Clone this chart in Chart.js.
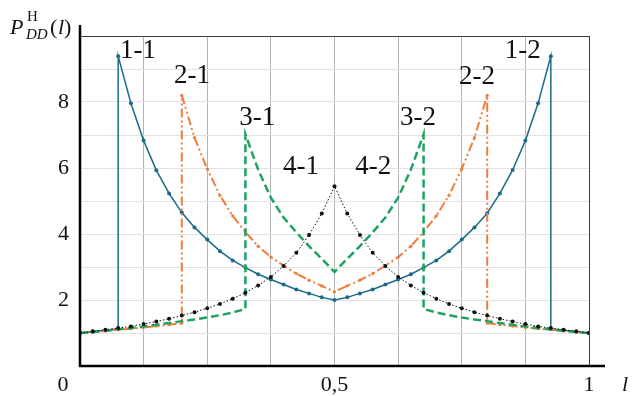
<!DOCTYPE html>
<html>
<head>
<meta charset="utf-8">
<script src="https://cdn.jsdelivr.net/npm/chart.js@4"></script>
<style>
  html, body { margin: 0; padding: 0; background: #fff; }
  canvas { display: block; }
</style>
</head>
<body>
<canvas id="chart" width="633" height="396"></canvas>
<script>
// curve 1 (teal, solid) - jump at l = 0.075 and l = 0.925
const l1 = [0, 0.025, 0.05, 0.075, 0.075, 0.1, 0.125, 0.15, 0.175, 0.2, 0.225, 0.25, 0.275, 0.3, 0.325, 0.35, 0.375, 0.4, 0.425, 0.45, 0.475, 0.5,
  0.525, 0.55, 0.575, 0.6, 0.625, 0.65, 0.675, 0.7, 0.725, 0.75, 0.775, 0.8, 0.825, 0.85, 0.875, 0.9, 0.925, 0.925, 0.95, 0.975, 1]
const p1 = [1.0, 1.04, 1.08, 1.12, 9.39, 7.96, 6.83, 5.93, 5.23, 4.65, 4.2, 3.83, 3.48, 3.2, 2.98, 2.78, 2.62, 2.47, 2.32, 2.2, 2.08, 2.0,
  2.08, 2.2, 2.32, 2.47, 2.62, 2.78, 2.98, 3.2, 3.48, 3.83, 4.2, 4.63, 5.23, 5.94, 6.83, 7.96, 9.39, 1.12, 1.08, 1.04, 1.0]

// curve 2 (orange, dash-dot-dot) - jump at l = 0.2 and l = 0.8
const l2 = [0, 0.025, 0.05, 0.075, 0.1, 0.125, 0.15, 0.175, 0.2, 0.2, 0.225, 0.25, 0.275, 0.3, 0.325, 0.35, 0.375, 0.4, 0.425, 0.45, 0.475, 0.5,
  0.525, 0.55, 0.575, 0.6, 0.625, 0.65, 0.675, 0.7, 0.725, 0.75, 0.775, 0.8, 0.8, 0.825, 0.85, 0.875, 0.9, 0.925, 0.95, 0.975, 1]
const p2 = [1.0, 1.03, 1.06, 1.1, 1.13, 1.17, 1.21, 1.25, 1.3, 8.2, 6.92, 5.97, 5.17, 4.55, 4.06, 3.63, 3.3, 3.04, 2.8, 2.6, 2.43, 2.25,
  2.43, 2.6, 2.8, 3.04, 3.3, 3.63, 4.06, 4.55, 5.17, 5.97, 6.92, 8.2, 1.3, 1.25, 1.21, 1.17, 1.13, 1.1, 1.06, 1.03, 1.0]

// curve 3 (green, dashed) - jump at l = 0.325 and l = 0.675
const l3 = [0, 0.025, 0.05, 0.075, 0.1, 0.125, 0.15, 0.175, 0.2, 0.225, 0.25, 0.275, 0.3, 0.325, 0.325, 0.35, 0.375, 0.4, 0.425, 0.45, 0.475, 0.5,
  0.525, 0.55, 0.575, 0.6, 0.625, 0.65, 0.675, 0.675, 0.7, 0.725, 0.75, 0.775, 0.8, 0.825, 0.85, 0.875, 0.9, 0.925, 0.95, 0.975, 1]
const p3 = [1.0, 1.03, 1.07, 1.11, 1.15, 1.2, 1.25, 1.3, 1.36, 1.41, 1.47, 1.54, 1.62, 1.73, 7.02, 5.95, 5.1, 4.5, 4.05, 3.63, 3.25, 2.85,
  3.25, 3.63, 4.05, 4.5, 5.1, 5.95, 7.02, 1.73, 1.62, 1.54, 1.47, 1.41, 1.36, 1.3, 1.25, 1.2, 1.15, 1.11, 1.07, 1.03, 1.0]

// curve 4 (black, dotted) - no jump
const l4 = [0, 0.025, 0.05, 0.075, 0.1, 0.125, 0.15, 0.175, 0.2, 0.225, 0.25, 0.275, 0.3, 0.325, 0.35, 0.375, 0.4, 0.425, 0.45, 0.475, 0.5,
  0.525, 0.55, 0.575, 0.6, 0.625, 0.65, 0.675, 0.7, 0.725, 0.75, 0.775, 0.8, 0.825, 0.85, 0.875, 0.9, 0.925, 0.95, 0.975, 1]
const p4 = [1.0, 1.05, 1.1, 1.15, 1.2, 1.27, 1.35, 1.43, 1.53, 1.63, 1.75, 1.88, 2.04, 2.22, 2.44, 2.7, 3.03, 3.43, 3.97, 4.62, 5.45,
  4.62, 3.97, 3.43, 3.03, 2.7, 2.44, 2.22, 2.04, 1.88, 1.75, 1.63, 1.53, 1.43, 1.35, 1.27, 1.2, 1.15, 1.1, 1.05, 1.0]

// axis ticks
const xTickLabels = { 0.5: '0,5', 1: '1' }
const yTickLabels = [2, 4, 6, 8]

// curve names, written near the peaks (data coords)
const curveNames = ['1-1', '2-1', '3-1', '4-1', '4-2', '3-2', '2-2', '1-2']
const nameAt = [[0.114, 9.55], [0.22, 8.8], [0.348, 7.52], [0.434, 6.03], [0.576, 6.03], [0.664, 7.52], [0.78, 8.75], [0.87, 9.55]]

const SERIF = '"Liberation Serif", "Times New Roman", serif'

function pts(xs, ys) {
  return xs.map((x, i) => ({ x: x, y: ys[i] }))
}

// axes, frame, titles and curve names
const decorations = {
  id: 'decorations',
  beforeDatasetsDraw(chart) {
    const { ctx, chartArea: a } = chart
    ctx.save()
    ctx.strokeStyle = '#3c3c3c'
    ctx.lineWidth = 1
    ctx.beginPath()
    ctx.moveTo(a.left, a.top + 0.5)
    ctx.lineTo(a.right, a.top + 0.5)
    ctx.moveTo(a.right + 0.5, a.top)
    ctx.lineTo(a.right + 0.5, a.bottom)
    ctx.stroke()
    ctx.restore()
  },
  afterDraw(chart) {
    const { ctx, chartArea: a, scales } = chart
    ctx.save()
    // thick axis lines
    ctx.strokeStyle = '#000'
    ctx.lineWidth = 2.5
    ctx.beginPath()
    ctx.moveTo(a.left, 25)
    ctx.lineTo(a.left, a.bottom)
    ctx.lineTo(a.right + 16, a.bottom)
    ctx.stroke()

    ctx.fillStyle = '#111'
    ctx.textBaseline = 'alphabetic'
    ctx.textAlign = 'center'
    // origin label
    ctx.font = '22px ' + SERIF
    ctx.fillText('0', 63, 391)
    // x axis title
    ctx.font = 'italic 22px ' + SERIF
    ctx.fillText('l', 625, 391)

    // y axis title  P^H_DD(l)
    ctx.textAlign = 'left'
    ctx.font = 'italic 22px ' + SERIF
    ctx.fillText('P', 10, 34)
    ctx.font = '15px ' + SERIF
    ctx.fillText('H', 27, 21)
    ctx.font = 'italic 15px ' + SERIF
    ctx.fillText('DD', 26, 39)
    ctx.font = '22px ' + SERIF
    ctx.fillText('(', 50, 34)
    ctx.font = 'italic 22px ' + SERIF
    ctx.fillText('l', 58, 34)
    ctx.font = '22px ' + SERIF
    ctx.fillText(')', 64, 34)

    // curve names
    ctx.textAlign = 'center'
    ctx.textBaseline = 'middle'
    ctx.font = '27px ' + SERIF
    curveNames.forEach((name, i) => {
      const px = scales.x.getPixelForValue(nameAt[i][0])
      const py = scales.y.getPixelForValue(nameAt[i][1])
      ctx.fillText(name, px, py)
    })
    ctx.restore()
  }
}

new Chart(document.getElementById('chart'), {
  type: 'line',
  data: {
    datasets: [
      {
        data: pts(l4, p4),
        borderColor: '#111',
        backgroundColor: '#111',
        borderWidth: 1,
        borderDash: [1.5, 2],
        pointRadius: 2,
        pointBorderWidth: 0
      },
      {
        data: pts(l3, p3),
        borderColor: '#1da35f',
        backgroundColor: '#1da35f',
        borderWidth: 2.5,
        borderDash: [8, 4],
        pointRadius: 0
      },
      {
        data: pts(l2, p2),
        borderColor: '#f07c3a',
        backgroundColor: '#f07c3a',
        borderWidth: 2,
        borderDash: [9, 3, 2, 3, 2, 3],
        pointRadius: 1.6,
        pointBorderWidth: 0
      },
      {
        data: pts(l1, p1),
        borderColor: '#1b6b88',
        backgroundColor: '#1b6b88',
        borderWidth: 1.5,
        pointRadius: 2,
        pointBorderWidth: 0
      }
    ]
  },
  options: {
    responsive: false,
    animation: false,
    devicePixelRatio: 1,
    parsing: false,
    layout: { padding: { left: 0, top: 36, right: 44, bottom: 0 } },
    plugins: {
      legend: { display: false },
      tooltip: { enabled: false }
    },
    elements: { line: { tension: 0 } },
    scales: {
      x: {
        type: 'linear',
        min: 0,
        max: 1,
        border: { display: false },
        grid: { color: '#b4b4b4', lineWidth: 1, drawTicks: false },
        ticks: {
          stepSize: 0.125,
          padding: 6,
          maxRotation: 0,
          autoSkip: false,
          color: '#111',
          font: { family: SERIF, size: 22 },
          callback: v => xTickLabels[v] || ''
        },
        afterFit(scale) { scale.height = 30 }
      },
      y: {
        min: 0,
        max: 10,
        border: { display: false },
        grid: { color: '#e2e2e2', lineWidth: 1, drawTicks: false },
        ticks: {
          stepSize: 1,
          padding: 11,
          autoSkip: false,
          color: '#111',
          font: { family: SERIF, size: 22 },
          callback: v => yTickLabels.includes(v) ? String(v) : ''
        },
        afterFit(scale) { scale.width = 80 }
      }
    }
  },
  plugins: [decorations]
})
</script>
</body>
</html>
